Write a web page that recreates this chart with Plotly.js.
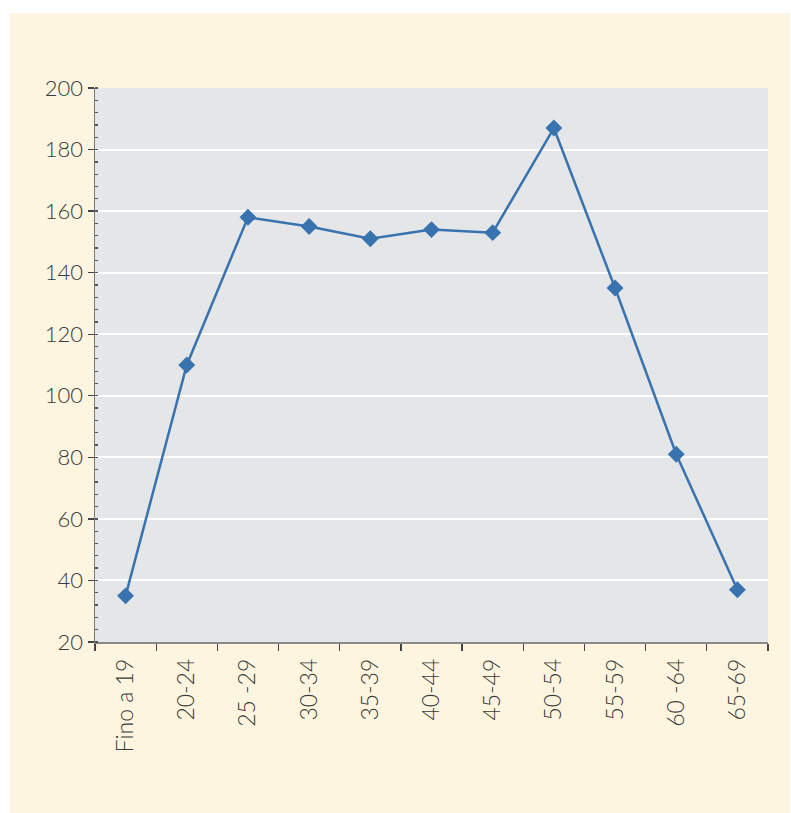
<!DOCTYPE html>
<html>
<head>
<meta charset="utf-8">
<script src="https://cdn.plot.ly/plotly-3.0.1.min.js"></script>
<style>
  html, body { margin: 0; padding: 0; background: #ffffff; }
  #chart { position: absolute; left: 10px; top: 13px; width: 780px; height: 800px; }
</style>
</head>
<body>
<div id="chart"></div>
<script>
const categories = ["Fino a 19", "20-24", "25 -29", "30-34", "35-39", "40-44", "45-49", "50-54", "55-59", "60 -64", "65-69"];
const values = [35, 110, 158, 155, 151, 154, 153, 187, 135, 81, 37];
const yTicks = [20, 40, 60, 80, 100, 120, 140, 160, 180, 200];

const trace = {
  x: categories,
  y: values,
  type: "scatter",
  mode: "lines+markers",
  line: { color: "#3873b0", width: 2.5 },
  marker: { symbol: "diamond", size: 13, color: "#3873b0" },
  hoverinfo: "x+y"
};

const layout = {
  width: 780,
  height: 800,
  margin: { l: 85, r: 22, t: 75, b: 171 },
  paper_bgcolor: "#fdf5df",
  plot_bgcolor: "#e5e6e8",
  showlegend: false,
  font: { family: "Lato, 'Open Sans', sans-serif", color: "#3a3a3a", weight: 300 },
  xaxis: {
    type: "category",
    range: [-0.5, categories.length - 0.5],
    tickson: "boundaries",
    ticks: "outside",
    ticklen: 7,
    tickwidth: 1.3,
    tickcolor: "#444",
    showline: true,
    linecolor: "#8a8a8a",
    linewidth: 1.5,
    showgrid: false,
    tickangle: -90,
    tickfont: { size: 23, color: "#3a3a3a", weight: 300 },
    ticklabelstandoff: 6
  },
  yaxis: {
    range: [20, 200],
    tickvals: yTicks,
    ticks: "outside",
    ticklen: 6,
    tickwidth: 1.3,
    tickcolor: "#444",
    showline: true,
    linecolor: "#777",
    linewidth: 1.5,
    showgrid: true,
    gridcolor: "#ffffff",
    gridwidth: 2,
    zeroline: false,
    tickfont: { size: 22, color: "#3a3a3a", weight: 300 },
    minor: { dtick: 4, ticks: "inside", ticklen: 3, tickcolor: "#555", showgrid: false }
  }
};

Plotly.newPlot("chart", [trace], layout, { displayModeBar: false, staticPlot: true });
</script>
</body>
</html>
